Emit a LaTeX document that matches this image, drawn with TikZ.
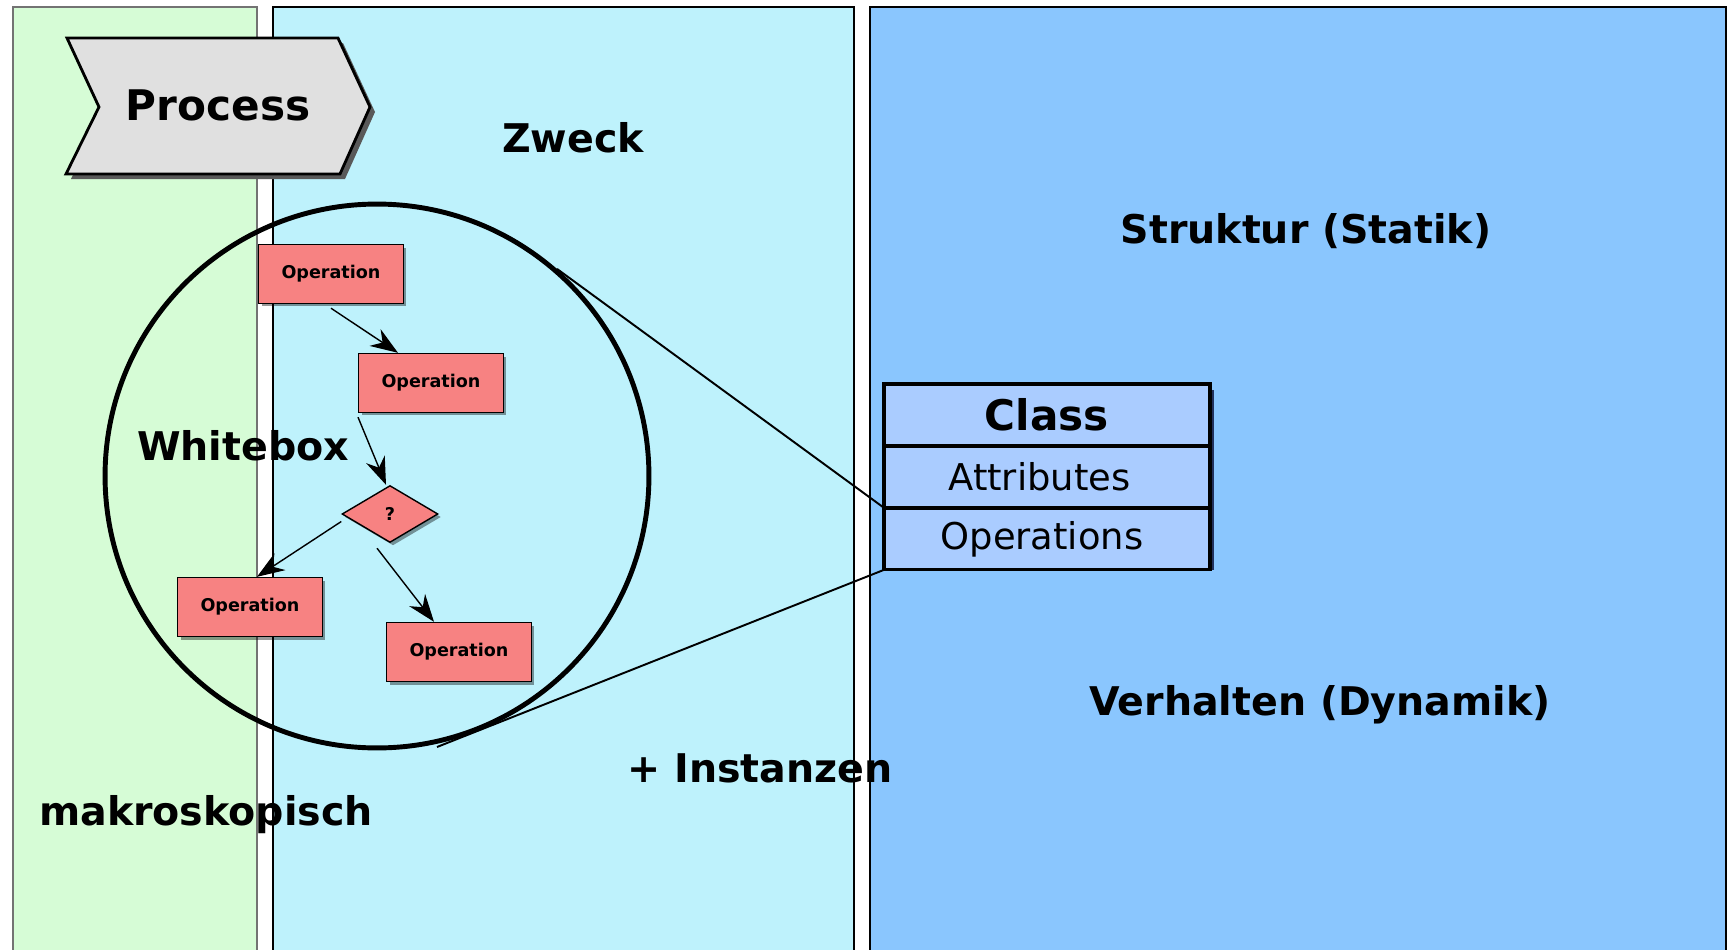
\documentclass[tikz,border=0pt]{standalone}
\usepackage{fontspec}
\setmainfont{DejaVu Sans}
\usetikzlibrary{positioning,shapes.geometric,arrows.meta,shadows}

\definecolor{makrogreen}{HTML}{D6FCD6}
\definecolor{zweckcyan}{HTML}{BEF2FC}
\definecolor{statikblue}{HTML}{8AC6FE}
\definecolor{opred}{HTML}{F78282}
\definecolor{clsblue}{HTML}{AACCFF}
\definecolor{prcgray}{HTML}{E0E0E0}

\begin{document}
\begin{tikzpicture}[x=0.02cm, y=-0.02cm,
	lane/.style={line width=1.1pt},
	heading/.style={inner sep=0, font=\fontsize{22.5}{27}\selectfont\bfseries},
	op/.style={rectangle, draw=black, line width=0.8pt, fill=opred, inner sep=0, minimum width=2.9cm, minimum height=1.18cm, font=\fontsize{10}{12}\selectfont\bfseries, drop shadow={shadow xshift=0.06cm, shadow yshift=-0.06cm, fill=black, opacity=0.4}},
	decision/.style={diamond, draw=black, line width=0.8pt, fill=opred, inner sep=0, aspect=1.7, minimum width=1.92cm, minimum height=1.14cm, font=\fontsize{10}{12}\selectfont\bfseries, drop shadow={shadow xshift=0.06cm, shadow yshift=-0.06cm, fill=black, opacity=0.4}},
	flow/.style={-{Stealth[length=0.55cm, width=0.4cm, inset=0.18cm]}, line width=0.8pt},
	clspart/.style={rectangle, draw=black, line width=1.1pt, fill=clsblue, inner sep=0, minimum width=6.48cm, minimum height=1.2cm}]
	\useasboundingbox (0,0) rectangle (1728,950);
	\clip (0,0) rectangle (1728,950);
	\fill[white] (0,0) rectangle (1728,950);
	
	% lanes
	\filldraw[lane, fill=makrogreen, draw=black!55] (13,7) rectangle (257,970);
	\filldraw[lane, fill=zweckcyan] (273,7) rectangle (854,970);
	\filldraw[lane, fill=statikblue] (870,7) rectangle (1726,970);
	
	% process chevron
	\fill[black!65, shift={(5,5)}] (67,38) -- (338,38) -- (370,107) -- (340,174) -- (66,174) -- (99,107) -- cycle;
	\filldraw[fill=prcgray, line width=1.6pt] (67,38) -- (338,38) -- (370,107) -- (340,174) -- (66,174) -- (99,107) -- cycle;
	\node[heading, font=\fontsize{24}{28}\selectfont\bfseries] (process) at (218,105){Process};
	
	\node[heading] (zweck) at (573,138){Zweck};
	\node[heading] (statik) at (1306,231){Struktur (Statik)};
	\node[heading] (dynamik) at (1320,705){Verhalten (Dynamik)};
	\node[heading] (instanzen) at (760,768){+ Instanzen};
	\node[heading] (makro) at (206,815){makroskopisch};
	
	% whitebox lens
	\node[circle, draw=black, line width=2.8pt, inner sep=0, minimum size=10.88cm] (lens) at (377,476){};
	\node[heading] (whitebox) at (243,446){Whitebox};
	
	\node[op] (op1) at (331,274){Operation};
	\node[op] (op2) at (431,383){Operation};
	\node[decision] (dec) at (390,514){?};
	\node[op] (op3) at (250,607){Operation};
	\node[op] (op4) at (459,652){Operation};
	
	\draw[flow] ([yshift=-0.08cm]op1.south) -- ([xshift=-0.66cm]op2.north);
	\draw[flow] ([xshift=-1.46cm, yshift=-0.08cm]op2.south) -- ([xshift=-0.08cm]dec.north);
	\draw[flow] ([yshift=-0.15cm]dec.west) -- ([xshift=0.14cm]op3.north);
	\draw[flow] ([xshift=-0.26cm, yshift=-0.1cm]dec.south) -- ([xshift=-0.5cm]op4.north);
	
	% class
	\fill[black!85!blue, opacity=0.75] (890,390) rectangle (1214,570);
	\node[clspart, font=\fontsize{24}{28}\selectfont\bfseries] (clsname) at (1047,415){Class};
	\node[clspart, below=0pt of clsname, font=\fontsize{21}{25}\selectfont] (clsattr){\hspace*{-0.3cm}Attributes};
	\node[clspart, below=0pt of clsattr, font=\fontsize{21}{25}\selectfont] (clsops){\hspace*{-0.2cm}Operations};
	\draw[line width=1.8pt] (clsname.north west) rectangle (clsops.south east);
	
	\coordinate (tail) at (437,747);
	\draw[line width=1.1pt] (lens.49) -- (clsattr.south west);
	\draw[line width=1.1pt] (clsops.south west) -- (tail);
\end{tikzpicture}
\end{document}
